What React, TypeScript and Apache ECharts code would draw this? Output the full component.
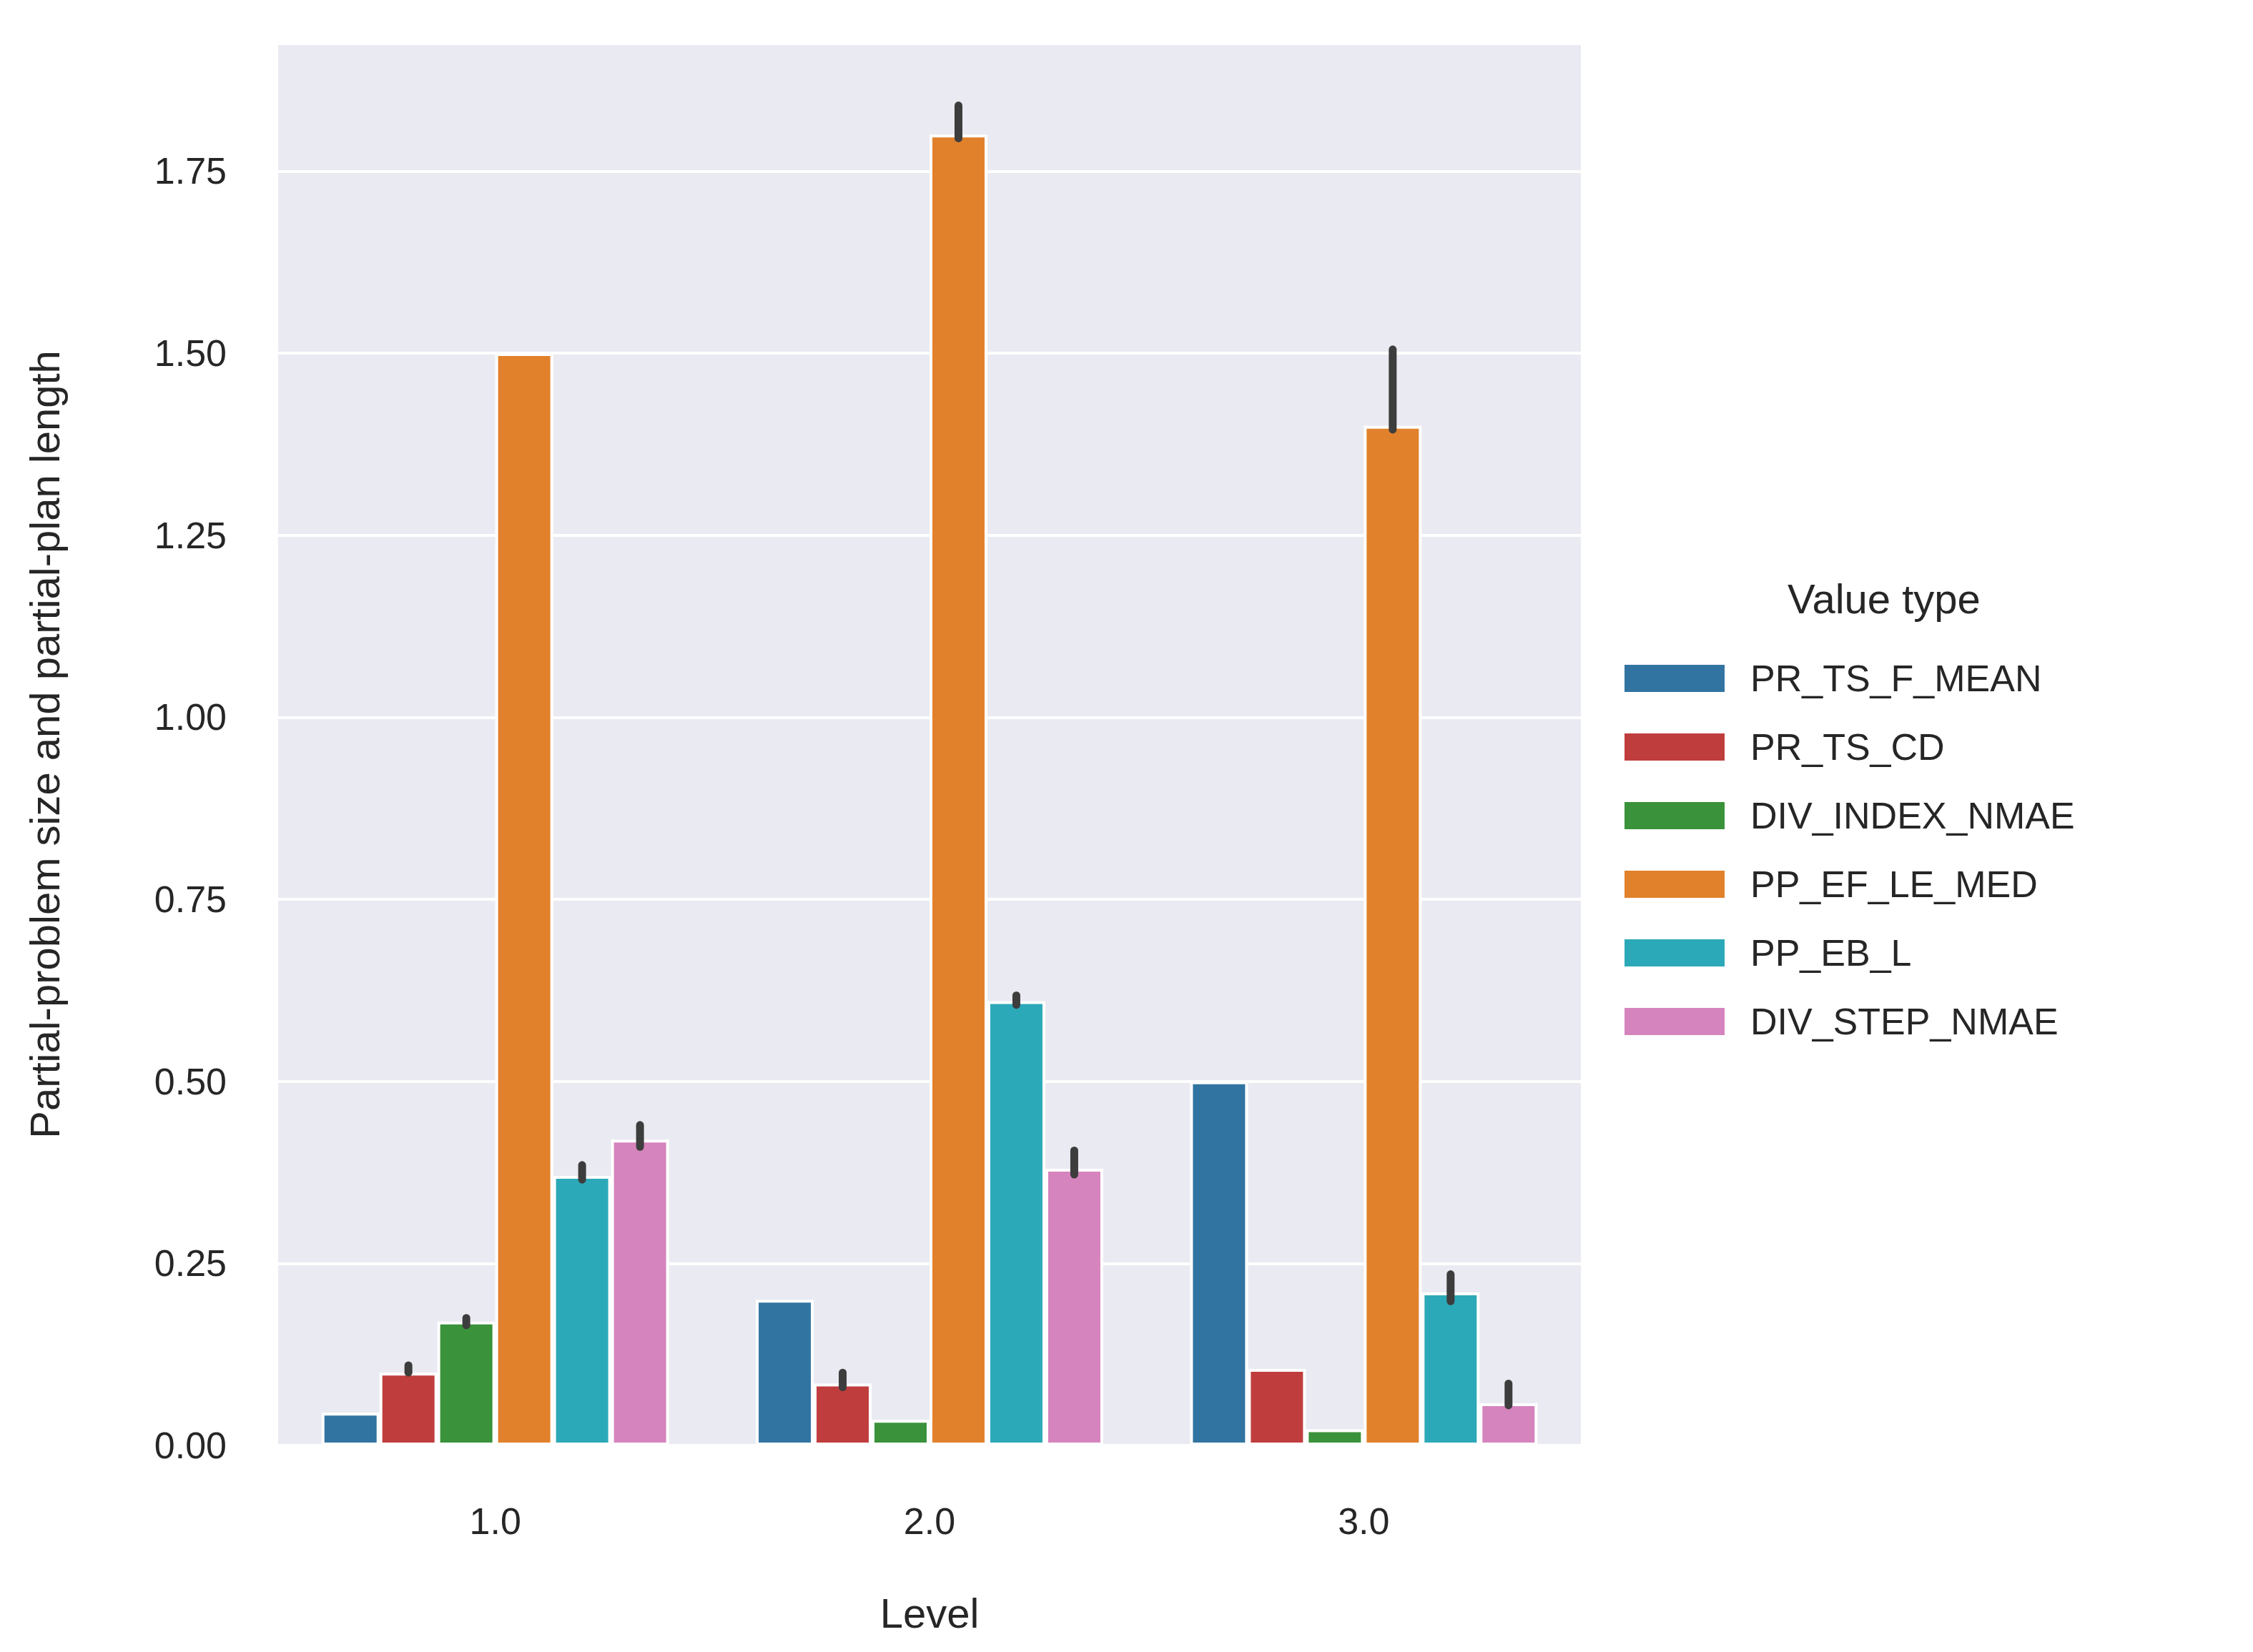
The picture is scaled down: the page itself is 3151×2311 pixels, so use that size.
import { useEffect, useRef } from "react";
import * as echarts from "echarts";

const LEVELS = ["1.0", "2.0", "3.0"];
const SERIES_NAMES = ["PR_TS_F_MEAN", "PR_TS_CD", "DIV_INDEX_NMAE", "PP_EF_LE_MED", "PP_EB_L", "DIV_STEP_NMAE"];
const COLORS = ["#3274a1", "#c03d3e", "#3a923a", "#e1812c", "#2ca9b8", "#d684bd"];
const VALUES = [
  [0.045, 0.2, 0.5],
  [0.1, 0.085, 0.105],
  [0.17, 0.035, 0.022],
  [1.5, 1.8, 1.4],
  [0.37, 0.61, 0.21],
  [0.42, 0.38, 0.058],
];
// [low, high] per level, null = no visible error bar
const ERRORS: ([number, number] | null)[][] = [
  [null, null, null],
  [[0.1, 0.11], [0.08, 0.1], null],
  [[0.165, 0.175], null, null],
  [null, [1.795, 1.84], [1.395, 1.505]],
  [[0.365, 0.385], [0.605, 0.618], [0.198, 0.235]],
  [[0.41, 0.44], [0.372, 0.405], [0.055, 0.085]],
];

const FONT = "Arial, 'Liberation Sans', sans-serif";
const INK = "#262626";

export default function App() {
  const ref = useRef<HTMLDivElement>(null);
  useEffect(() => {
    document.body.style.margin = "0";
    if (!ref.current) return;
    const chart = echarts.init(ref.current, undefined, { renderer: "svg" });
    const n = SERIES_NAMES.length;
    const bars = SERIES_NAMES.map((name, i) => ({
      name,
      type: "bar",
      data: VALUES[i],
      barGap: "0%",
      barCategoryGap: "20%",
      itemStyle: { color: COLORS[i], borderColor: "#ffffff", borderWidth: 4 },
    }));
    const errs = SERIES_NAMES.map((name, i) => ({
      name: name + "_err",
      type: "custom",
      z: 10,
      data: ERRORS[i]
        .map((e, c) => (e ? [c, e[0], e[1]] : null))
        .filter((d) => d !== null),
      renderItem: (_p: any, api: any) => {
        const c = api.value(0);
        const lo = api.coord([c, api.value(1)]);
        const hi = api.coord([c, api.value(2)]);
        const band = api.size([1, 0])[0];
        const x = lo[0] + (i - (n - 1) / 2) * (band * 0.8) / n;
        return {
          type: "line",
          shape: { x1: x, y1: lo[1], x2: x, y2: hi[1] },
          style: { stroke: "#3d3d3d", lineWidth: 11, lineCap: "round" },
        };
      },
    }));
    chart.setOption({
      animation: false,
      backgroundColor: "#ffffff",
      textStyle: { fontFamily: FONT },
      grid: { left: 389, top: 61, width: 1822, height: 1961, backgroundColor: "#eaeaf2", show: true, borderWidth: 0 },
      xAxis: {
        type: "category",
        data: LEVELS,
        name: "Level",
        nameLocation: "middle",
        nameGap: 205,
        nameTextStyle: { color: INK, fontSize: 58, fontFamily: FONT },
        axisLine: { show: false },
        axisTick: { show: false },
        axisLabel: { color: INK, fontSize: 52, margin: 80 },
        splitLine: { show: false },
      },
      yAxis: {
        type: "value",
        min: 0,
        max: 1.925,
        interval: 0.25,
        name: "Partial-problem size and partial-plan length",
        nameLocation: "middle",
        nameGap: 298,
        nameTextStyle: { color: INK, fontSize: 58, fontFamily: FONT },
        axisLine: { show: false },
        axisTick: { show: false },
        axisLabel: {
          color: INK,
          fontSize: 52,
          margin: 72,
          showMaxLabel: false,
          formatter: (v: number) => v.toFixed(2),
        },
        splitLine: { lineStyle: { color: "#ffffff", width: 4 } },
      },
      legend: {
        data: SERIES_NAMES,
        orient: "vertical",
        left: 2265,
        top: 918,
        itemWidth: 142,
        itemHeight: 40,
        itemGap: 44,
        icon: "rect",
        textStyle: { color: INK, fontSize: 52, fontFamily: FONT, padding: [0, 0, 0, 30] },
      },
      graphic: [
        {
          type: "text",
          left: 2500,
          top: 808,
          style: { text: "Value type", fill: INK, font: `58px ${FONT}` },
        },
      ],
      series: [...bars, ...errs],
    });
    return () => chart.dispose();
  }, []);
  return <div ref={ref} style={{ width: 3151, height: 2311 }} />;
}
